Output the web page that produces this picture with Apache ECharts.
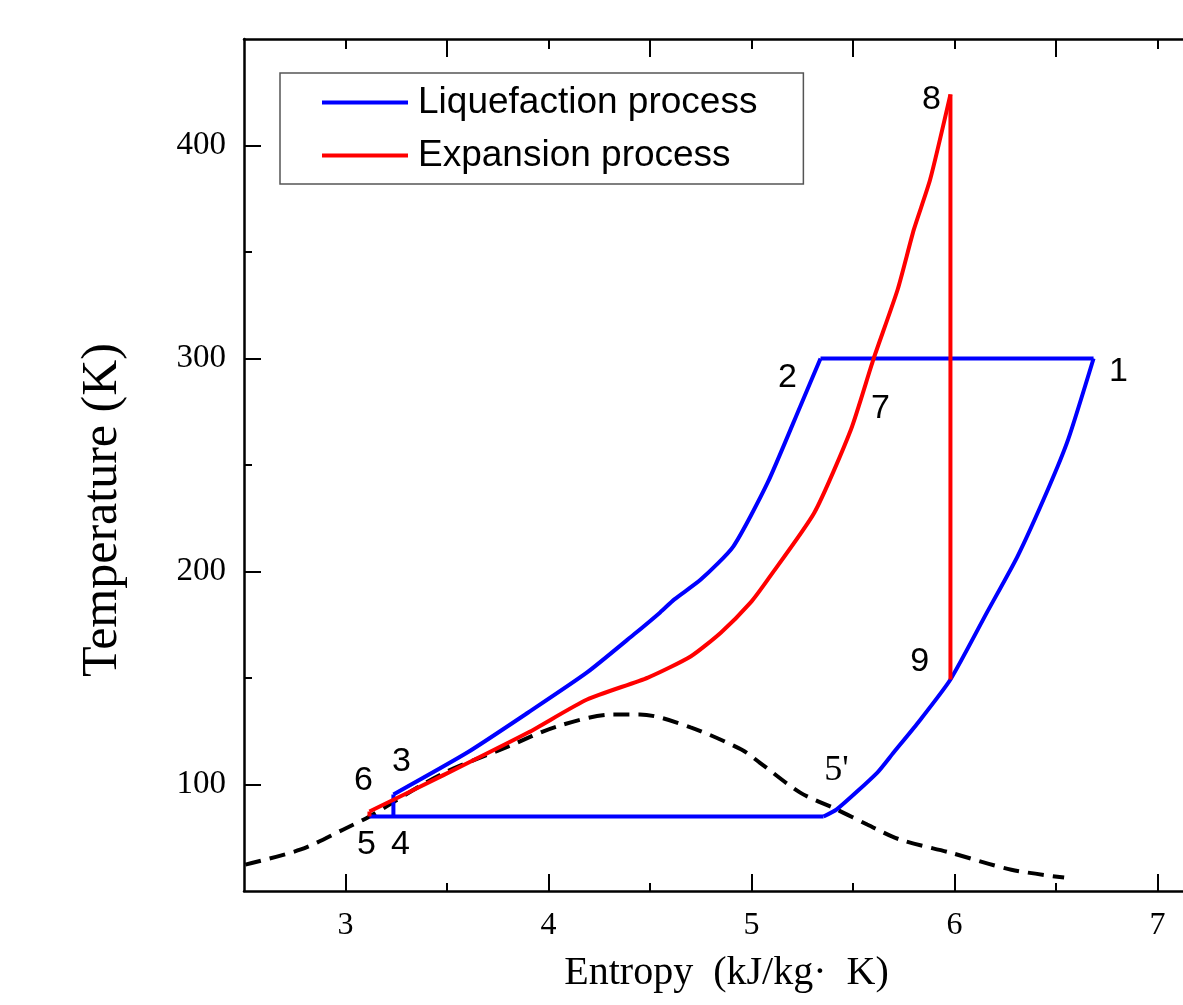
<!DOCTYPE html>
<html>
<head>
<meta charset="utf-8">
<title>T-s diagram</title>
<script src="https://cdn.jsdelivr.net/npm/echarts@6/dist/echarts.min.js"></script>
<style>
  html, body { margin: 0; padding: 0; background: #fff; }
  #chart { width: 1183px; height: 1005px; }
</style>
</head>
<body>
<div id="chart"></div>
<script>
  // 液化过程 (blue): 1 -> 2, 2 -> 3 curve, 3 -> 4 -> 5 -> 5', 5' -> 9 -> 1 curve
  var liqTop = [[6.685, 300], [5.34, 300]];
  var liqLeft = [
    [3.236, 95.3], [3.60, 115], [3.90, 133.8], [4.19, 152.6], [4.42, 170.4],
    [4.55, 180.8], [4.62, 186.9], [4.75, 196.2], [4.91, 211.7], [5.08, 241.8],
    [5.24, 277.5], [5.34, 300]
  ];
  var liqStep = [[3.236, 95.3], [3.236, 85], [3.118, 85], [5.355, 85]];
  var liqRight = [
    [5.355, 85], [5.42, 88.3], [5.62, 105.6], [5.70, 115], [5.82, 129],
    [5.98, 149.3], [6.16, 180.8], [6.31, 207], [6.46, 238.5], [6.56, 262],
    [6.685, 300]
  ];
  // 膨胀过程 (red): 5 -> 6, 6 -> 7 -> 8 curve, 8 -> 9
  var expStart = [[3.118, 85], [3.118, 87.3]];
  var expCurve = [
    [3.118, 87.3], [3.47, 103.8], [3.90, 124.4], [4.19, 139.9], [4.49, 150.2],
    [4.70, 160.1], [4.85, 171.4], [4.995, 185.4], [5.08, 196.2], [5.31, 227.7],
    [5.49, 266.7], [5.60, 299.5], [5.72, 332.4], [5.80, 360.6], [5.88, 384],
    [5.98, 424]
  ];
  var expDrop = [[5.98, 424], [5.98, 149.3]];
  // 饱和线 (dashed)
  var saturation = [
    [2.507, 62.4], [2.78, 69.5], [2.99, 78.9], [3.118, 85], [3.47, 104.7],
    [3.80, 117.8], [4.04, 127.2], [4.32, 132.9], [4.45, 132.9], [4.70, 126.8],
    [4.95, 116.4], [5.04, 110.3], [5.24, 96.2], [5.42, 88.3], [5.57, 81.2],
    [5.73, 74.2], [5.98, 68], [6.28, 60], [6.54, 56.3]
  ];
  // 状态点标注
  var pointLabels = [
    [6.808, 293.9, '1'], [5.177, 291.1, '2'], [3.276, 110.8, '3'],
    [3.271, 71.8, '4'], [3.103, 71.8, '5'], [3.089, 101.9, '6'],
    [5.635, 276.5, '7'], [5.887, 421.6, '8'], [5.828, 157.7, '9']
  ];
  var primeLabels = [[5.419, 106.6, "5'"]];

  var xMajor = [3, 4, 5, 6, 7];
  var xMinor = [3.5, 4.5, 5.5, 6.5];
  var yMajor = [100, 200, 300, 400];
  var yMinor = [150, 250, 350];

  var X_MIN = 2.5, X_MAX = 7.1256, Y_MIN = 50, Y_MAX = 450;
  var serif = 'Liberation Serif';
  var sans = 'Liberation Sans';
  var BLUE = '#0000ff', RED = '#ff0000';
  var axisLine = { show: true, lineStyle: { color: '#000', width: 2.5 } };

  function tickAxis(pos, vals, len, extra) {
    var a = {
      type: 'value', position: pos, min: pos === 'left' ? Y_MIN : X_MIN,
      max: pos === 'left' ? Y_MAX : X_MAX,
      axisLine: { show: false },
      axisTick: { show: true, inside: true, length: len, customValues: vals,
        lineStyle: { color: '#000', width: 2 } },
      axisLabel: { show: false },
      splitLine: { show: false }
    };
    return Object.assign(a, extra || {});
  }

  function seg(name, data, color, smooth) {
    return {
      name: name, type: 'line', data: data, symbol: 'none',
      smooth: smooth ? 0.2 : false,
      itemStyle: { color: color },
      lineStyle: { color: color, width: 4 }
    };
  }

  function labelSeries(data, font, size) {
    return {
      type: 'scatter', data: data, symbolSize: 1, silent: true,
      itemStyle: { color: 'transparent', opacity: 1 },
      label: { show: true, position: 'inside', opacity: 1,
        formatter: function (p) { return p.data[2]; },
        fontFamily: font, fontSize: size, color: '#000' }
    };
  }

  var LIQ = 'Liquefaction process', EXP = 'Expansion process';

  var option = {
    animation: false,
    backgroundColor: '#fff',
    grid: { left: 244, top: 39, right: 0, bottom: 114, containLabel: false },
    legend: {
      left: 280, top: 73, orient: 'vertical',
      data: [LIQ, EXP],
      icon: 'rect', itemWidth: 86, itemHeight: 4, itemGap: 16,
      padding: [11, 46, 10, 42],
      borderColor: '#555', borderWidth: 1.5,
      textStyle: { fontFamily: sans, fontSize: 37, color: '#000', padding: [0, 0, 0, 5] }
    },
    xAxis: [
      tickAxis('bottom', xMajor, 17, {
        axisLine: axisLine,
        axisLabel: { show: true, customValues: xMajor, margin: 19,
          fontFamily: serif, fontSize: 32, color: '#000' },
        name: 'Entropy  (kJ/kg·  K)', nameLocation: 'middle', nameGap: 62,
        nameTextStyle: { fontFamily: serif, fontSize: 40, color: '#000', padding: [0, 0, 0, 26] }
      }),
      tickAxis('bottom', xMinor, 8),
      tickAxis('top', [3.5, 4.5, 5.5, 6.5], 18, { axisLine: axisLine }),
      tickAxis('top', [3, 4, 5, 6, 7], 10)
    ],
    yAxis: [
      tickAxis('left', yMajor, 17, {
        axisLine: axisLine,
        axisLabel: { show: true, customValues: yMajor, margin: 18,
          fontFamily: serif, fontSize: 33, color: '#000' },
        name: 'Temperature (K)', nameLocation: 'middle', nameGap: 116,
        nameTextStyle: { fontFamily: serif, fontSize: 50, color: '#000', padding: [0, 90, 0, 0] }
      }),
      tickAxis('left', yMinor, 8)
    ],
    series: [
      {
        name: 'saturation', type: 'line', data: saturation, smooth: 0.3,
        symbol: 'none', silent: true,
        lineStyle: { color: '#000', width: 4, type: [16, 9] }
      },
      seg(LIQ, liqTop, BLUE, false),
      seg(LIQ, liqLeft, BLUE, true),
      seg(LIQ, liqStep, BLUE, false),
      seg(LIQ, liqRight, BLUE, true),
      seg(EXP, expStart, RED, false),
      seg(EXP, expCurve, RED, true),
      seg(EXP, expDrop, RED, false),
      labelSeries(pointLabels, sans, 34),
      labelSeries(primeLabels, serif, 36)
    ]
  };

  var myChart = echarts.init(document.getElementById('chart'));
  myChart.setOption(option);
</script>
</body>
</html>
